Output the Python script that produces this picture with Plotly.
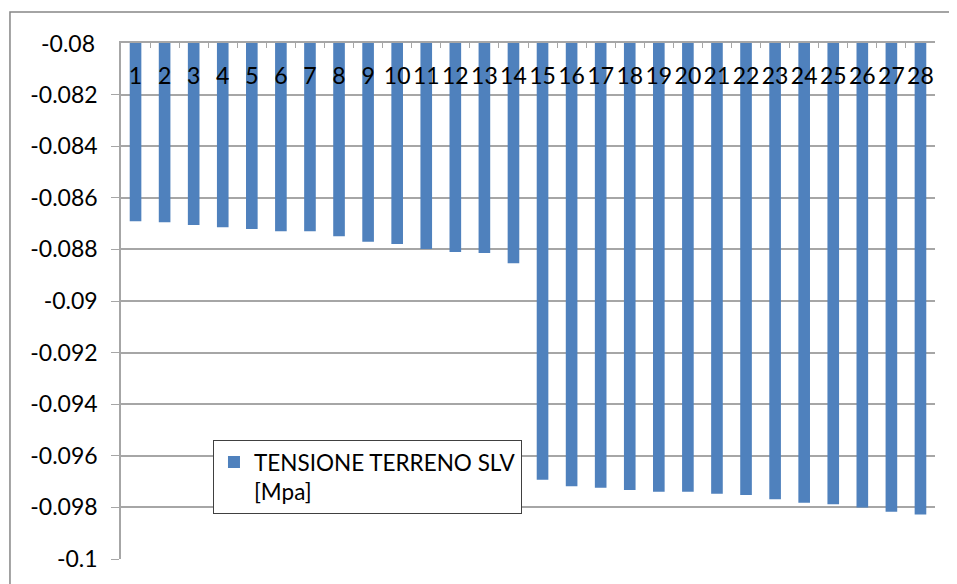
import plotly.graph_objects as go

categories = [str(i) for i in range(1, 29)]
tensione = [
    -0.08691, -0.08695, -0.08705, -0.08714, -0.08721, -0.08730, -0.08730,
    -0.08749, -0.08770, -0.08779, -0.08798, -0.08810, -0.08814, -0.08854,
    -0.09693, -0.09718, -0.09724, -0.09733, -0.09739, -0.09739, -0.09747,
    -0.09752, -0.09768, -0.09782, -0.09788, -0.09800, -0.09817, -0.09828,
]
y_tickvals = [-0.1, -0.098, -0.096, -0.094, -0.092, -0.09, -0.088, -0.086, -0.084, -0.082, -0.08]
y_ticktext = ["-0.1", "-0.098", "-0.096", "-0.094", "-0.092", "-0.09", "-0.088",
              "-0.086", "-0.084", "-0.082", "-0.08"]

BAR_COLOR = "#4F81BD"
GRID_COLOR = "#A6A6A6"
FONT = "Lato"
TICK_SIZE = 23

fig = go.Figure(
    go.Bar(
        x=categories,
        y=tensione,
        name="TENSIONE TERRENO SLV<br>[Mpa]",
        marker={"color": BAR_COLOR, "line": {"width": 0}},
    )
)

# the page body adds an 8px offset, so the figure is sized to fit the window after it
fig.update_layout(
    width=949,
    height=576,
    margin={"l": 113, "r": 22, "t": 35, "b": 25, "autoexpand": False},
    paper_bgcolor="white",
    plot_bgcolor="white",
    bargap=0.6,
    font={"family": FONT, "size": TICK_SIZE, "color": "black"},
    showlegend=True,
    legend={
        "x": 0.113,
        "y": 0.231,
        "xanchor": "left",
        "yanchor": "top",
        "bgcolor": "white",
        "bordercolor": "#404040",
        "borderwidth": 1,
        "valign": "top",
        "font": {"family": FONT, "size": 22.5},
    },
    shapes=[
        {
            "type": "rect",
            "xref": "paper",
            "yref": "paper",
            "x0": -0.1364,
            "x1": 1.2,
            "y0": -0.2,
            "y1": 1.0601,
            "line": {"color": "#868686", "width": 1.5},
            "fillcolor": "rgba(0,0,0,0)",
            "layer": "below",
        }
    ],
)

# top tick label of the y axis gets dropped by plotly, so draw it as text
fig.add_annotation(
    x=0,
    xref="paper",
    y=y_tickvals[-1],
    yref="y",
    text=y_ticktext[-1],
    showarrow=False,
    xanchor="right",
    xshift=-24,
    font={"family": FONT, "size": TICK_SIZE, "color": "black"},
)

fig.update_xaxes(
    type="category",
    side="top",
    automargin=False,
    showline=True,
    linecolor=GRID_COLOR,
    linewidth=1.5,
    ticks="inside",
    ticklen=5,
    tickcolor=GRID_COLOR,
    tickson="boundaries",
    ticklabelposition="inside",
    ticklabelstandoff=22,
    tickangle=0,
    showgrid=False,
    tickfont={"family": FONT, "size": TICK_SIZE, "color": "black"},
)

fig.update_yaxes(
    range=[-0.1, -0.08],
    automargin=False,
    tickvals=y_tickvals,
    ticktext=y_ticktext,
    showline=True,
    linecolor=GRID_COLOR,
    linewidth=1.5,
    ticks="outside",
    ticklen=8,
    tickcolor=GRID_COLOR,
    ticklabelstandoff=9,
    showgrid=True,
    gridcolor=GRID_COLOR,
    gridwidth=1.5,
    zeroline=False,
    tickfont={"family": FONT, "size": TICK_SIZE, "color": "black"},
)

fig.write_html("out.html", config={"displayModeBar": False})
